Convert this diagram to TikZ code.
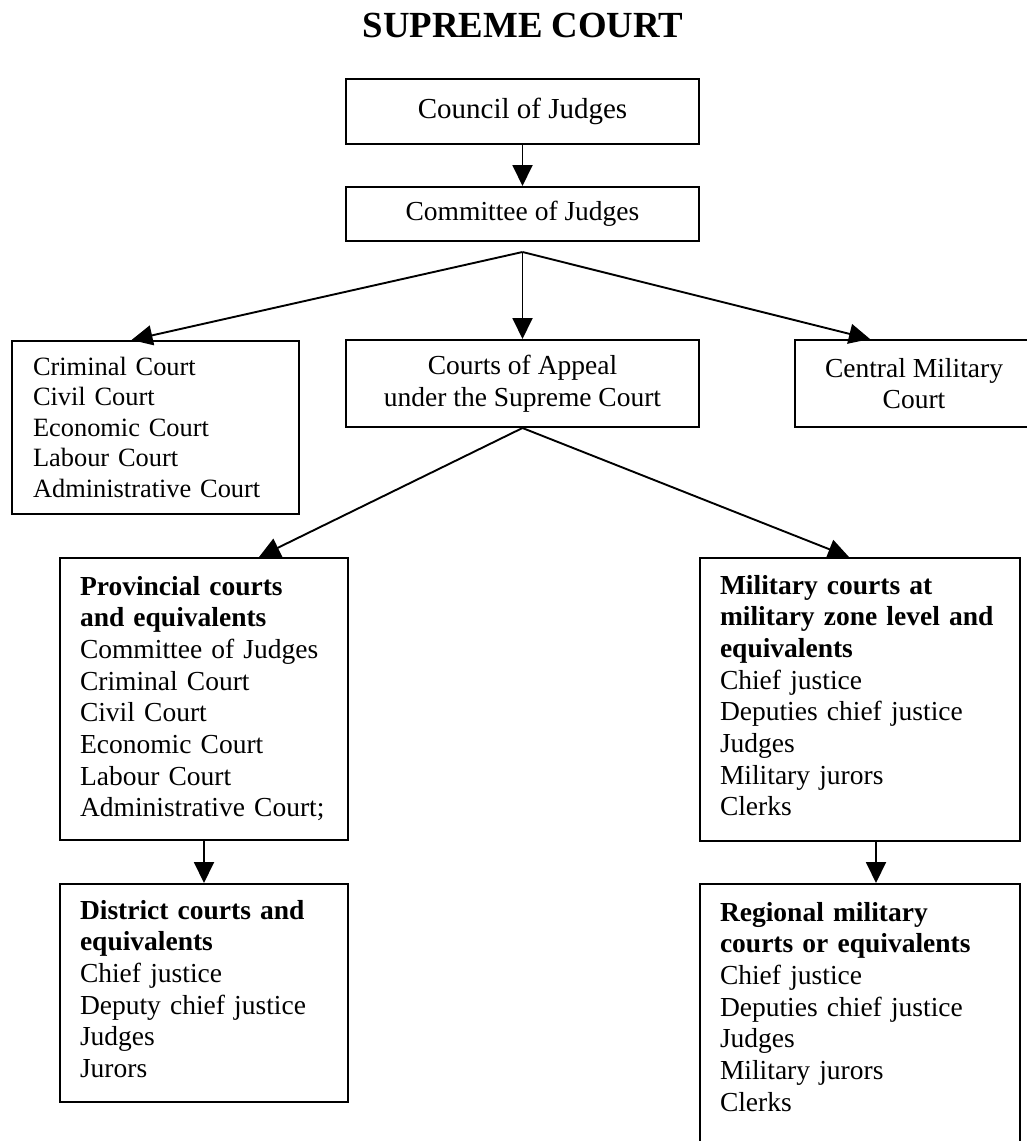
\documentclass[tikz,border=0pt]{standalone}
\usepackage{fontspec}
\setmainfont{Liberation Serif}
\usetikzlibrary{arrows.meta}

\newcommand{\boxfont}{\fontsize{27.5}{31.7}\selectfont}

\tikzstyle{centerbox} = [draw, line width=2pt, align=center, inner sep=0pt, font=\boxfont]
\tikzstyle{listbox} = [draw, line width=2pt, align=left, anchor=north west, inner xsep=20pt, inner ysep=0pt, font=\boxfont]
\tikzstyle{link} = [line width=1.9pt, -{Triangle[length=21pt,width=20pt]}]

\begin{document}
\begin{tikzpicture}[x=1pt,y=-1pt]
	\useasboundingbox (0,0) rectangle (1026,1141);
	\node[anchor=base, font=\fontsize{36.8}{40}\selectfont\bfseries] (t1) at (523,37) {SUPREME COURT};

	\node[centerbox, minimum width=353pt, minimum height=65pt, font=\fontsize{29}{33}\selectfont] (b1) at (522.5,111.5) {Council of Judges};
	\node[centerbox, minimum width=353pt, minimum height=54pt] (b2) at (522.5,214) {Committee of Judges};
	\coordinate (f1) at (522.5,252);

	\node[listbox, inner xsep=21pt, text width=245pt, text height=34pt, text depth=139pt, font=\fontsize{26.4}{30.5}\selectfont] (b3) at (11,340) {Criminal Court\\Civil Court\\Economic Court\\Labour Court\\Administrative Court};
	\node[centerbox, minimum width=353pt, minimum height=87pt] (b4) at (522.5,383.5) {Courts of Appeal\\under the Supreme Court};
	\node[centerbox, minimum width=238pt, minimum height=87pt] (b5) at (914,383.5) {Central Military\\Court};

	\node[listbox, text width=248pt, text height=37pt, text depth=245pt] (b6) at (59,557) {\textbf{Provincial courts}\\\textbf{and equivalents}\\Committee of Judges\\Criminal Court\\Civil Court\\Economic Court\\Labour Court\\Administrative Court;};
	\node[listbox, text width=280pt, text height=36pt, text depth=247pt] (b7) at (699,557) {\textbf{Military courts at}\\\textbf{military zone level and}\\\textbf{equivalents}\\Chief justice\\Deputies chief justice\\Judges\\Military jurors\\Clerks};
	\node[listbox, text width=248pt, text height=35pt, text depth=183pt] (b8) at (59,883) {\textbf{District courts and}\\\textbf{equivalents}\\Chief justice\\Deputy chief justice\\Judges\\Jurors};
	\node[listbox, text width=280pt, text height=37pt, text depth=240pt] (b9) at (699,883) {\textbf{Regional military}\\\textbf{courts or equivalents}\\Chief justice\\Deputies chief justice\\Judges\\Military jurors\\Clerks};

	\draw[link] (b1) -- (b2);
	\draw[link] (f1) -- ([xshift=-24pt]b3.north);
	\draw[link] (f1) -- (b4);
	\draw[link] (f1) -- ([xshift=-44pt]b5.north);
	\draw[link] (b4.south) -- ([xshift=55pt]b6.north);
	\draw[link] (b4.south) -- ([xshift=-11pt]b7.north);
	\draw[link] (b6) -- (b8);
	\draw[link] ([xshift=16pt]b7.south) -- ([xshift=16pt]b9.north);
\end{tikzpicture}
\end{document}
